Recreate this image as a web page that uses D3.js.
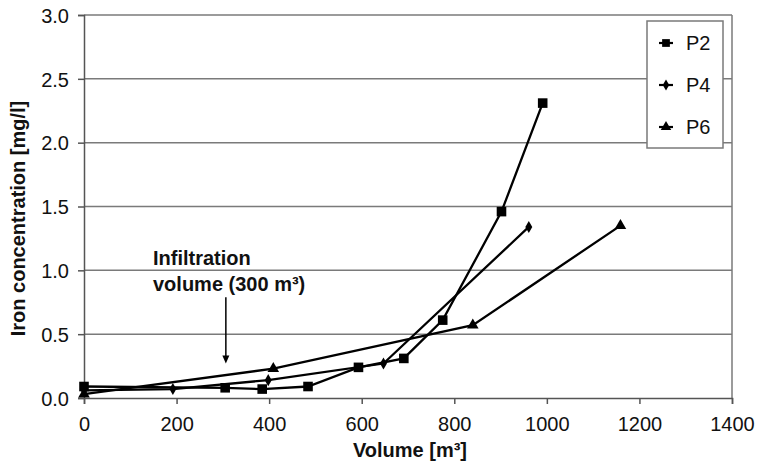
<!DOCTYPE html>
<html>
<head>
<meta charset="utf-8">
<script src="https://cdn.jsdelivr.net/npm/d3@7"></script>
<style>
  html, body { margin: 0; padding: 0; background: #fff; }
  svg { display: block; font-family: "Liberation Sans", Arial, sans-serif; }
</style>
</head>
<body>
<svg id="chart" width="757" height="463"></svg>
<script>
// Iron concentration vs. pumped volume at three wells
const xTicks = [0, 200, 400, 600, 800, 1000, 1200, 1400];
const yTicks = [0.0, 0.5, 1.0, 1.5, 2.0, 2.5, 3.0];

const p2Volume = [0, 305, 385, 484, 593, 691, 775, 902, 991];
const p2Iron   = [0.09, 0.08, 0.07, 0.09, 0.24, 0.31, 0.61, 1.46, 2.31];

const p4Volume = [0, 192, 398, 647, 961];
const p4Iron   = [0.06, 0.07, 0.14, 0.27, 1.34];

const p6Volume = [0, 409, 840, 1159];
const p6Iron   = [0.03, 0.23, 0.57, 1.35];

const seriesNames = ["P2", "P4", "P6"];
const markerTypes = ["square", "diamond", "triangle"];

const infiltrationVolume = 300;
const arrowFrom = 0.79, arrowTo = 0.27;

const series = [
  { name: seriesNames[0], marker: markerTypes[0], pts: p2Volume.map((v, i) => [v, p2Iron[i]]) },
  { name: seriesNames[1], marker: markerTypes[1], pts: p4Volume.map((v, i) => [v, p4Iron[i]]) },
  { name: seriesNames[2], marker: markerTypes[2], pts: p6Volume.map((v, i) => [v, p6Iron[i]]) }
];

const svg = d3.select("#chart");
const plotLeft = 84, plotRight = 732, plotTop = 15, plotBottom = 398;

const x = d3.scaleLinear().domain([0, 1400]).range([plotLeft, plotRight]);
const y = d3.scaleLinear().domain([0, 3]).range([plotBottom, plotTop]);

const gridColor = "#7a7a7a";

// horizontal gridlines
svg.append("g").selectAll("line").data(yTicks.filter(d => d > 0)).join("line")
  .attr("x1", plotLeft).attr("x2", plotRight)
  .attr("y1", d => y(d)).attr("y2", d => y(d))
  .attr("stroke", gridColor).attr("stroke-width", 1.5);

// right border of plot area
svg.append("line").attr("x1", plotRight).attr("x2", plotRight).attr("y1", plotTop).attr("y2", plotBottom)
  .attr("stroke", gridColor).attr("stroke-width", 1.5);

// axes
const xAxis = svg.append("g").attr("transform", `translate(0,${plotBottom})`)
  .call(d3.axisBottom(x).tickValues(xTicks).tickFormat(d3.format("d")).tickSize(6).tickPadding(8));
const yAxis = svg.append("g").attr("transform", `translate(${plotLeft},0)`)
  .call(d3.axisLeft(y).tickValues(yTicks).tickFormat(d3.format(".1f")).tickSize(6).tickPadding(9));

[xAxis, yAxis].forEach(g => {
  g.select(".domain").attr("stroke", "#555").attr("stroke-width", 1.5);
  g.selectAll(".tick line").attr("stroke", "#555").attr("stroke-width", 1.5);
  g.selectAll(".tick text").attr("fill", "#111").style("font-size", "20px")
    .style("font-family", "'Liberation Sans', Arial, sans-serif");
});
xAxis.selectAll(".tick text").attr("dy", "0.95em");
yAxis.selectAll(".tick text").attr("dy", "0.36em");

// axis titles
svg.append("text").attr("x", (plotLeft + plotRight) / 2 + 2).attr("y", 457)
  .attr("text-anchor", "middle").attr("font-weight", "bold").attr("font-size", 20).attr("fill", "#111")
  .text("Volume [m³]");
svg.append("text").attr("transform", `translate(25,${(plotTop + plotBottom) / 2 + 12}) rotate(-90)`)
  .attr("text-anchor", "middle").attr("font-weight", "bold").attr("font-size", 20).attr("fill", "#111")
  .text("Iron concentration [mg/l]");

// marker shapes
const symbolFor = {
  square: d3.symbol().type(d3.symbolSquare).size(92),
  diamond: d3.symbol().type(d3.symbolDiamond).size(42),
  triangle: d3.symbol().type(d3.symbolTriangle).size(58)
};
const legendSymbol = {
  square: d3.symbol().type(d3.symbolSquare).size(60),
  diamond: d3.symbol().type(d3.symbolDiamond).size(36),
  triangle: d3.symbol().type(d3.symbolTriangle).size(48)
};

const line = d3.line().x(d => x(d[0])).y(d => y(d[1]));

series.forEach(s => {
  svg.append("path").datum(s.pts).attr("d", line)
    .attr("fill", "none").attr("stroke", "#000").attr("stroke-width", 2.3);
  svg.append("g").selectAll("path").data(s.pts).join("path")
    .attr("d", symbolFor[s.marker])
    .attr("transform", d => `translate(${x(d[0])},${y(d[1])})`)
    .attr("fill", "#000");
});

// infiltration annotation
svg.append("text").attr("x", 153).attr("y", 265)
  .attr("font-weight", "bold").attr("font-size", 20).attr("fill", "#111").text("Infiltration");
svg.append("text").attr("x", 153).attr("y", 291)
  .attr("font-weight", "bold").attr("font-size", 20).attr("fill", "#111").text("volume (300 m³)");

const ax = x(infiltrationVolume) + 3;
svg.append("line").attr("x1", ax).attr("x2", ax)
  .attr("y1", y(arrowFrom)).attr("y2", y(arrowTo) - 6)
  .attr("stroke", "#000").attr("stroke-width", 1.5);
svg.append("path")
  .attr("d", `M${ax - 3.5},${y(arrowTo) - 8} L${ax + 3.5},${y(arrowTo) - 8} L${ax},${y(arrowTo)} Z`)
  .attr("fill", "#000");

// legend
const legend = svg.append("g");
legend.append("rect").attr("x", 647).attr("y", 21).attr("width", 76).attr("height", 127)
  .attr("fill", "#fff").attr("stroke", gridColor).attr("stroke-width", 1.5);
const legendY = [43, 85, 127];
series.forEach((s, i) => {
  const ly = legendY[i];
  legend.append("line").attr("x1", 659).attr("x2", 673).attr("y1", ly).attr("y2", ly)
    .attr("stroke", "#000").attr("stroke-width", 2.2);
  legend.append("path").attr("d", legendSymbol[s.marker])
    .attr("transform", `translate(666,${ly})`).attr("fill", "#000");
  legend.append("text").attr("x", 686).attr("y", ly + 7)
    .attr("font-size", 20).attr("fill", "#111").text(s.name);
});
</script>
</body>
</html>
